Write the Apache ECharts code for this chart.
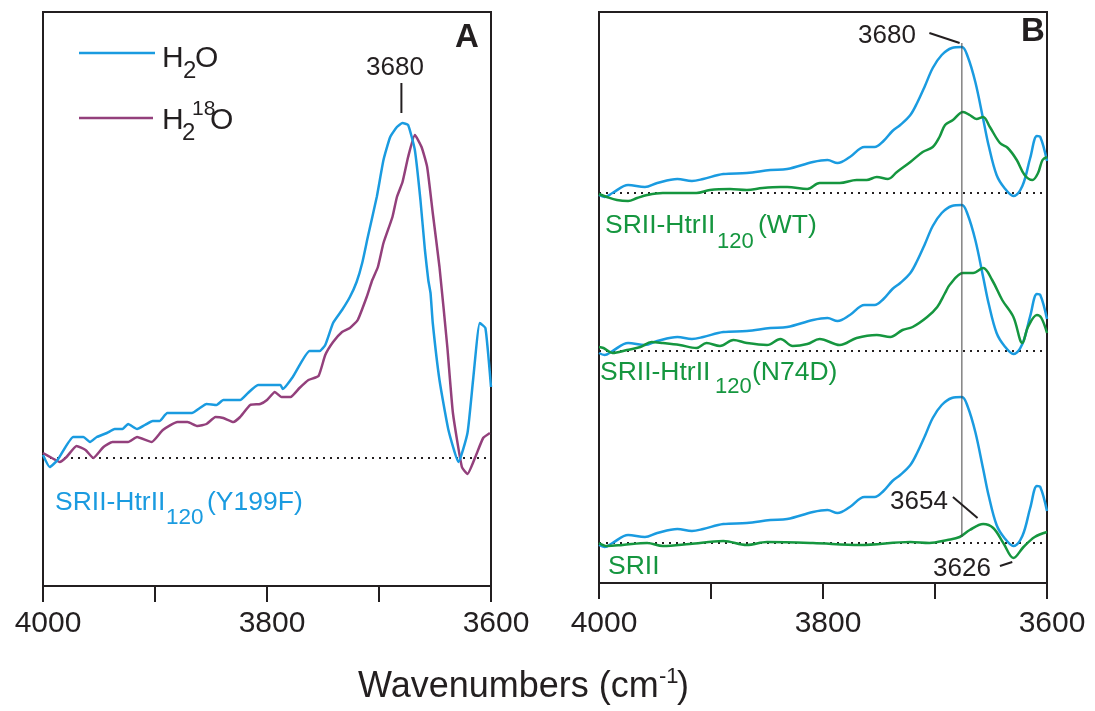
<!DOCTYPE html>
<html><head><meta charset="utf-8">
<script src="https://cdn.jsdelivr.net/npm/echarts@6/dist/echarts.min.js"></script>
<style>html,body{margin:0;padding:0;background:#fff}#c{width:1095px;height:711px}</style>
</head><body><div id="c"></div>
<script>
// ---------- data (wavenumber cm^-1, difference absorbance in arbitrary units) ----------
const tickLabels = [4000, 3800, 3600];

// Panel A : SRII-HtrII120 (Y199F)
const a_H2O = [[4000,3],[3994,-9],[3987,-2],[3973,21],[3964,21],[3958,16],[3952,21],[3943,25],[3936,29],[3929,29],[3924,34],[3916,29],[3909,33],[3902,37],[3896,37],[3889,45],[3867,45],[3860,50],[3854,54],[3845,53],[3839,58],[3824,58],[3817,65],[3808,73],[3788,73],[3786,69],[3777,81],[3762,107],[3753,107],[3748,113],[3741,135],[3733,148],[3726,161],[3720,176],[3715,195],[3710,221],[3702,261],[3696,298],[3690,321],[3684,331],[3679,335],[3674,333],[3668,308],[3663,258],[3659,208],[3656,178],[3654,165],[3652,135],[3646,78],[3638,28],[3629,-4],[3621,25],[3616,78],[3610,135],[3605,130],[3600,71]];
const a_H218O = [[4000,5],[3992,0],[3985,-4],[3979,1],[3970,12],[3962,8],[3955,0],[3946,11],[3938,16],[3924,16],[3916,21],[3903,16],[3893,28],[3880,36],[3871,36],[3862,32],[3854,34],[3846,41],[3839,40],[3830,36],[3824,41],[3815,53],[3806,54],[3800,58],[3793,66],[3787,61],[3779,61],[3771,70],[3763,78],[3754,82],[3748,103],[3741,116],[3733,126],[3726,130],[3719,138],[3711,161],[3706,178],[3701,191],[3696,215],[3688,241],[3684,261],[3679,276],[3674,301],[3668,323],[3662,311],[3657,291],[3652,245],[3646,191],[3639,111],[3634,45],[3626,-9],[3621,-16],[3614,1],[3607,20],[3601,25]];

// Panel B : reference (blue) trace, drawn behind each green trace
const b_ref = [[4000,-2],[3995,-4],[3988,0],[3974,8],[3959,6],[3948,10],[3930,14],[3917,12],[3907,14],[3889,19],[3868,20],[3847,23],[3832,24],[3809,31],[3796,33],[3787,30],[3776,36],[3763,46],[3754,46],[3746,52],[3738,62],[3731,68],[3722,78],[3716,90],[3709,107],[3702,125],[3694,138],[3685,145],[3676,146],[3671,137],[3664,111],[3657,74],[3652,47],[3645,18],[3638,5],[3630,-3],[3622,7],[3615,35],[3609,57],[3606,56],[3600,32]];
const b_WT = [[4000,-1],[3993,-4],[3984,-7],[3974,-8],[3966,-5],[3957,-2],[3943,0],[3913,0],[3901,3],[3883,4],[3868,3],[3854,5],[3838,6],[3832,6],[3814,4],[3803,10],[3785,10],[3770,13],[3761,13],[3752,16],[3742,14],[3734,21],[3722,31],[3711,41],[3702,46],[3696,56],[3691,68],[3684,73],[3675,81],[3669,78],[3663,74],[3657,76],[3651,66],[3642,50],[3635,45],[3627,33],[3620,18],[3613,13],[3608,20],[3604,33],[3600,36]];
const b_N74D = [[4000,4],[3996,3],[3988,-2],[3975,1],[3963,4],[3953,9],[3943,8],[3928,6],[3913,3],[3904,8],[3892,5],[3880,11],[3868,8],[3850,6],[3838,12],[3827,5],[3814,7],[3803,12],[3785,6],[3770,13],[3752,16],[3740,14],[3729,21],[3720,24],[3707,34],[3698,44],[3691,58],[3687,66],[3675,78],[3666,78],[3657,83],[3649,71],[3640,51],[3630,34],[3622,8],[3617,24],[3609,36],[3605,33],[3600,18]];
const b_SRII = [[4000,0],[3993,-3],[3979,-2],[3957,0],[3943,-3],[3919,-1],[3889,2],[3868,-2],[3850,1],[3809,0],[3767,-2],[3722,1],[3705,0],[3689,3],[3678,6],[3669,13],[3657,19],[3648,15],[3639,0],[3630,-15],[3621,-4],[3611,6],[3600,11]];

// vertical stacking offsets of the three traces in panel B (WT, N74D, SRII)
const b_offsets = [350, 192, 0];
const b_names = ['SRII-HtrII120(WT)', 'SRII-HtrII120(N74D)', 'SRII'];
const b_green = [b_WT, b_N74D, b_SRII];

// peak markers
const peakA = 3680;         // panel A marker
const peakB = 3676;         // panel B vertical guide

// ---------- styling ----------
const FONT = '"Liberation Sans", Arial, Helvetica, sans-serif';
const INK = '#231f20';
const BLUE = '#1a9be0';
const PURPLE = '#93407c';
const GREEN = '#15963f';

function lineSeries(data, xi, color, extra) {
  return Object.assign({
    type: 'line', data: data, xAxisIndex: xi, yAxisIndex: xi,
    showSymbol: false, symbol: 'none', silent: true, animation: false,
    lineStyle: { color: color, width: 2.5 }, smooth: 0.25
  }, extra || {});
}
function guide(data, xi, style) {
  return { type: 'line', data: data, xAxisIndex: xi, yAxisIndex: xi, showSymbol: false, symbol: 'none',
           silent: true, animation: false, lineStyle: style, z: 3 };
}
const shift = (arr, off) => arr.map(p => [p[0], p[1] + off]);

const series = [];
// Panel A
series.push(guide([[4000,0],[3600,0]], 0, { color: INK, width: 2, type: [2,5] }));
series.push(lineSeries(a_H218O, 0, PURPLE, { smooth: 0.15 }));
series.push(lineSeries(a_H2O, 0, BLUE, { smooth: 0.15 }));
series.push(guide([[peakA,345],[peakA,375]], 0, { color: INK, width: 2 }));
// Panel B
b_offsets.forEach((off, i) => {
  series.push(guide([[4000,off],[3600,off]], 1, { color: INK, width: 2, type: [2,5] }));
  series.push(lineSeries(shift(b_ref, off), 1, BLUE, { smooth: 0.35 }));
  series.push(lineSeries(shift(b_green[i], off), 1, GREEN, { smooth: 0.35 }));
});
series.push(guide([[peakB,6],[peakB,500]], 1, { color: '#444', width: 1 }));
series.push(guide([[3705,510],[3678,500]], 1, { color: INK, width: 2 }));
series.push(guide([[3684,46],[3662,25]], 1, { color: INK, width: 2 }));
series.push(guide([[3642,-23],[3631,-19]], 1, { color: INK, width: 2 }));

// ---------- text annotations ----------
function T(text, x, bl, fs, color, bold) {
  return { type: 'text', z: 100, silent: true,
    style: { x: x, y: bl - 0.35 * fs, text: text, fill: color || INK,
      font: (bold ? 'bold ' : '') + fs + 'px ' + FONT,
      align: 'left', verticalAlign: 'middle', textAlign: 'left', textVerticalAlign: 'middle' } };
}
function L(x1, y1, x2, y2, color) {
  return { type: 'line', z: 100, silent: true, shape: { x1, y1, x2, y2 }, style: { stroke: color, lineWidth: 2.5 } };
}
const graphic = [
  // panel A
  T('A', 455, 49, 33, INK, true),
  T('3680', 366, 77, 26),
  L(79, 53, 155, 53, BLUE),
  T('H', 162, 69, 30), T('2', 183, 80, 24), T('O', 195, 69, 30),
  L(79, 118, 153, 118, PURPLE),
  T('H', 162, 131, 30), T('2', 182, 142, 24), T('18', 192, 117, 21), T('O', 210, 131, 30),
  T('SRII-HtrII', 55, 512, 26.5, BLUE), T('120', 166, 526, 22.5, BLUE), T('(Y199F)', 207, 512, 26.5, BLUE),
  // panel B
  T('B', 1021, 43, 33, INK, true),
  T('3680', 858, 45, 26),
  T('3654', 890, 511, 26),
  T('3626', 933, 578, 26),
  T('SRII-HtrII', 605, 235, 26.5, GREEN), T('120', 717, 250, 22, GREEN), T('(WT)', 758, 235, 26.5, GREEN),
  T('SRII-HtrII', 600, 382, 26.5, GREEN), T('120', 715, 395, 22, GREEN), T('(N74D)', 752, 382, 26.5, GREEN),
  T('SRII', 608, 576, 26.5, GREEN),
  // axis title
  T('Wavenumbers (cm', 358, 700, 36), T('-1', 659, 685, 22), T(')', 677, 700, 36)
];

function xAx(gi, margin) {
  return {
    gridIndex: gi, type: 'value', min: 3600, max: 4000, interval: 100, inverse: true,
    splitLine: { show: false },
    axisLine: { show: true, onZero: false, lineStyle: { color: INK, width: 2 } },
    axisTick: { show: true, inside: false, length: 16, lineStyle: { color: INK, width: 2 } },
    axisLabel: { show: true, margin: margin, color: INK, fontSize: 30, fontFamily: FONT, padding: [0,0,0,10],
      formatter: v => tickLabels.includes(v) ? String(v) : '' }
  };
}
function yAx(gi, min, max) {
  return { gridIndex: gi, type: 'value', min: min, max: max, show: false, splitLine: { show: false } };
}

const chart = echarts.init(document.getElementById('c'), null, { renderer: 'canvas' });
chart.setOption({
  animation: false,
  backgroundColor: '#fff',
  grid: [
    { left: 43, top: 12, width: 448, height: 574, show: true, borderColor: INK, borderWidth: 2, backgroundColor: 'transparent' },
    { left: 599, top: 12, width: 448, height: 571, show: true, borderColor: INK, borderWidth: 2, backgroundColor: 'transparent' }
  ],
  xAxis: [xAx(0, 23), xAx(1, 26)],
  yAxis: [yAx(0, -128, 446), yAx(1, -40, 531)],
  series: series,
  graphic: graphic
});
</script>
</body></html>
